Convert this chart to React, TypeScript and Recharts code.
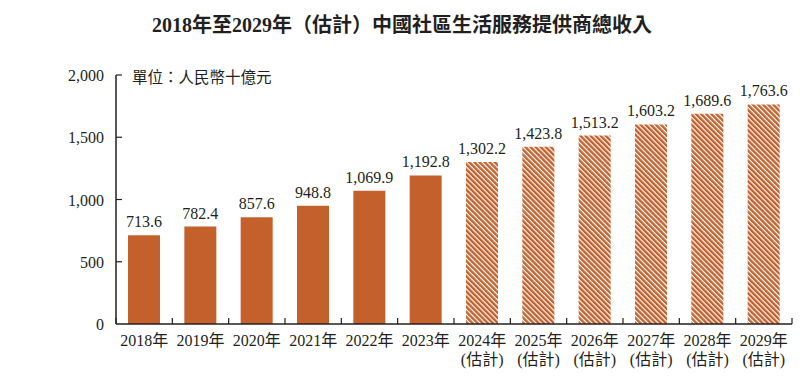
import React from "react";
import { BarChart, Bar, XAxis, YAxis, Cell, LabelList } from "recharts";

const years = ["2018", "2019", "2020", "2021", "2022", "2023", "2024", "2025", "2026", "2027", "2028", "2029"];
const revenue = [713.6, 782.4, 857.6, 948.8, 1069.9, 1192.8, 1302.2, 1423.8, 1513.2, 1603.2, 1689.6, 1763.6];
const estimated = [false, false, false, false, false, false, true, true, true, true, true, true];
const yTicks = [0, 500, 1000, 1500, 2000];

const data = years.map((y, i) => ({ year: y, value: revenue[i], est: estimated[i] }));

const BAR = "#c4602b";
const INK = "#231f20";
const FONT = '"Liberation Serif", "Noto Sans CJK TC", serif';

const fmt = (v: number) =>
  v.toLocaleString("en-US", { minimumFractionDigits: 1, maximumFractionDigits: 1 });

const XTick = (props: any) => {
  const { x, y, payload, index } = props;
  const half = payload.offset || 28.17;
  const axisY = y - 12;
  const est = estimated[payload.index ?? index];
  return (
    <g>
      <line x1={x - half} x2={x - half} y1={axisY} y2={axisY - 6} stroke={INK} strokeWidth={1.2} />
      {index === years.length - 1 && (
        <line x1={x + half} x2={x + half} y1={axisY} y2={axisY - 6} stroke={INK} strokeWidth={1.2} />
      )}
      <text x={x} y={axisY + 22} textAnchor="middle" fontSize={16} fill={INK} fontFamily={FONT}>
        {payload.value}年
      </text>
      {est && (
        <text x={x} y={axisY + 41} textAnchor="middle" fontSize={16} fill={INK} fontFamily={FONT}>
          (估計)
        </text>
      )}
    </g>
  );
};

const YTick = (props: any) => {
  const { x, y, payload } = props;
  const axisX = x + 12;
  return (
    <g>
      {payload.value !== 0 && (
        <line x1={axisX} x2={axisX + 6} y1={y} y2={y} stroke={INK} strokeWidth={1.2} />
      )}
      <text x={axisX - 12} y={y + 6} textAnchor="end" fontSize={16} fill={INK} fontFamily={FONT}>
        {payload.value.toLocaleString("en-US")}
      </text>
    </g>
  );
};

export default function App() {
  return (
    <div style={{ position: "absolute", left: 0, top: 0, width: 804, height: 381, background: "#fff" }}>
      <div
        style={{
          position: "absolute",
          top: 9,
          left: 0,
          width: 804,
          textAlign: "center",
          fontFamily: FONT,
          fontWeight: "bold",
          fontSize: 20,
          color: INK,
        }}
      >
        2018年至2029年（估計）中國社區生活服務提供商總收入
      </div>
      <div
        style={{
          position: "absolute",
          top: 65,
          left: 132,
          fontFamily: FONT,
          fontSize: 15.5,
          color: INK,
        }}
      >
        單位：人民幣十億元
      </div>
      <BarChart
        width={804}
        height={381}
        data={data}
        margin={{ top: 75, right: 12, left: 0, bottom: 0 }}
        barCategoryGap={0}
      >
        <defs>
          <pattern id="hatch" patternUnits="userSpaceOnUse" width={3.6} height={3.6} patternTransform="rotate(-45)">
            <rect x={0} y={0} width={2.4} height={3.6} fill={BAR} />
          </pattern>
        </defs>
        <XAxis
          dataKey="year"
          height={57}
          axisLine={{ stroke: INK, strokeWidth: 1.5 }}
          tickLine={false}
          tickSize={6}
          tickMargin={6}
          interval={0}
          tick={<XTick />}
        />
        <YAxis
          width={116}
          domain={[0, 2000]}
          ticks={yTicks}
          axisLine={{ stroke: INK, strokeWidth: 1.5 }}
          tickLine={false}
          tickSize={6}
          tickMargin={6}
          tick={<YTick />}
        />
        <Bar dataKey="value" barSize={32} isAnimationActive={false}>
          {data.map((d, i) => (
            <Cell key={i} fill={d.est ? "url(#hatch)" : BAR} />
          ))}
          <LabelList
            dataKey="value"
            position="top"
            offset={8}
            formatter={(v: any) => fmt(Number(v))}
            style={{ fontSize: 16, fill: INK, fontFamily: FONT }}
          />
        </Bar>
      </BarChart>
    </div>
  );
}
